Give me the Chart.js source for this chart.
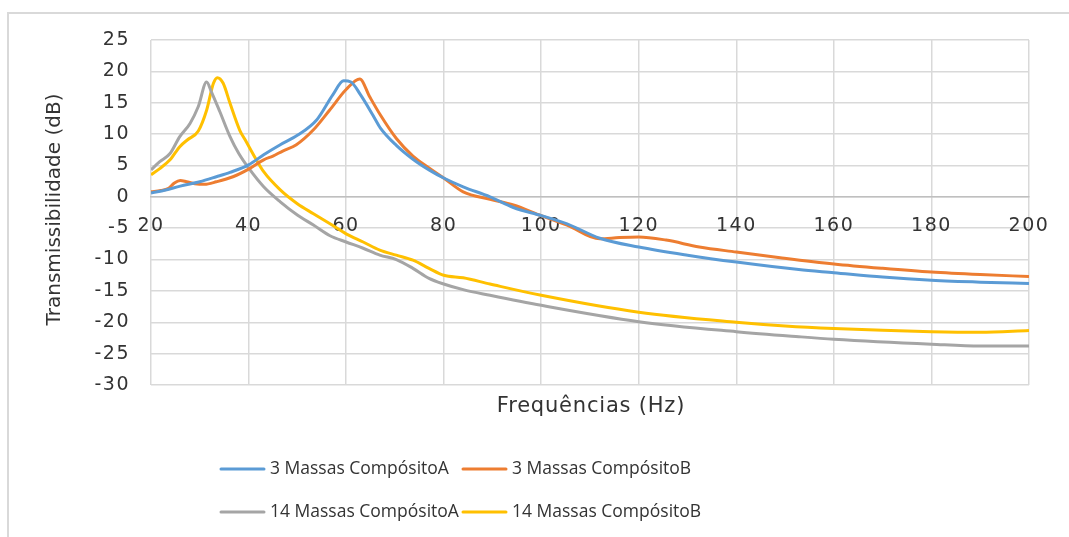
<!DOCTYPE html>
<html>
<head>
<meta charset="utf-8">
<script src="https://cdn.jsdelivr.net/npm/chart.js@4/dist/chart.umd.min.js"></script>
<style>
  html, body { margin: 0; padding: 0; background: #ffffff; overflow: hidden; }
  #wrap { width: 1069px; height: 537px; position: relative; }
</style>
</head>
<body>
<div id="wrap"><canvas id="c" width="1069" height="537"></canvas></div>
<script>
// Axis ranges and labels
const xTitle = 'Frequências (Hz)';
const yTitle = 'Transmissibilidade (dB)';
const xMin = 20, xMax = 200, xStep = 20;
const yMin = -30, yMax = 25, yStep = 5;

const seriesNames = [
  '3 Massas CompósitoA',
  '3 Massas CompósitoB',
  '14 Massas CompósitoA',
  '14 Massas CompósitoB'
];

// 3 Massas – CompósitoA
const freqA3 = [20, 23, 26, 30, 33.4, 36.2, 40, 43.1, 46.5, 50, 54, 57.3, 59.5, 61, 63, 65.5, 67, 70.3, 73.7, 77, 80, 84, 89.5, 94.3, 100, 105.3, 112, 120, 130, 140, 152.8, 160, 170, 180, 190, 200];
const valA3  = [0.6, 1.1, 1.7, 2.4, 3.2, 3.9, 5.1, 6.7, 8.3, 9.8, 12.3, 16.3, 18.5, 18.3, 16.2, 13.0, 11.0, 8.2, 6.0, 4.3, 3.0, 1.6, 0.0, -1.7, -3.0, -4.3, -6.6, -8.0, -9.3, -10.4, -11.6, -12.1, -12.8, -13.3, -13.6, -13.8];

// 3 Massas – CompósitoB
const freqB3 = [20, 22, 23.5, 24.8, 26, 27.3, 29, 31, 33.4, 36.8, 40.2, 43.1, 45, 47, 49.8, 53.2, 56.6, 60, 62.8, 64.8, 66.9, 70.3, 73.7, 77, 80, 84, 89.5, 94.3, 100, 105.3, 112, 116, 120, 125.6, 132.4, 140, 149, 160, 170, 180, 190, 200];
const valB3  = [0.8, 1.0, 1.3, 2.2, 2.6, 2.4, 2.1, 2.0, 2.4, 3.2, 4.5, 5.9, 6.5, 7.3, 8.3, 10.6, 13.8, 17.1, 18.8, 16.0, 13.2, 9.3, 6.5, 4.6, 3.0, 0.8, -0.4, -1.3, -3.0, -4.5, -6.7, -6.5, -6.4, -6.9, -8.0, -8.8, -9.7, -10.7, -11.4, -12.0, -12.4, -12.7];

// 14 Massas – CompósitoA
const freqA14 = [20, 21.8, 23.9, 25.9, 28, 29.7, 31.4, 32.4, 34.1, 36.2, 38, 40, 43.1, 46.5, 50, 53.3, 56.7, 60, 63.5, 66.9, 70.3, 73.7, 77, 80, 84, 89.5, 100, 120, 140, 152.8, 160, 180, 190, 200];
const valA14  = [4.3, 5.6, 6.9, 9.6, 11.7, 14.4, 18.3, 16.7, 13.6, 9.6, 6.9, 4.6, 1.6, -0.8, -2.9, -4.5, -6.2, -7.2, -8.2, -9.3, -10.0, -11.4, -13.0, -13.9, -14.8, -15.7, -17.3, -19.9, -21.5, -22.3, -22.7, -23.5, -23.8, -23.8];

// 14 Massas – CompósitoB
const freqB14 = [20, 21.8, 23.9, 25.9, 27.5, 29.7, 31.4, 32.8, 33.6, 34.8, 36.2, 38.2, 39.3, 41.6, 43.1, 46.5, 50, 53.3, 56.7, 60, 63.5, 66.9, 70.3, 73.7, 77, 80, 84, 89.5, 100, 120, 140, 150, 160, 180, 190, 200];
const valB14  = [3.5, 4.5, 5.9, 8.0, 9.1, 10.5, 13.8, 18.1, 19.0, 18.1, 14.9, 10.6, 9.1, 5.9, 4.0, 1.1, -1.1, -2.7, -4.3, -5.9, -7.2, -8.5, -9.3, -10.1, -11.4, -12.5, -12.9, -13.9, -15.7, -18.4, -20.0, -20.6, -21.0, -21.5, -21.6, -21.3];

const colors = ['#5B9BD5', '#ED7D31', '#A5A5A5', '#FFC000'];
const textColor = '#333333';
const gridColor = '#d9d9d9';
const tickFont = '"DejaVu Sans", sans-serif';
const titleFont = '"DejaVu Sans", sans-serif';
const legendFont = '"Open Sans", "DejaVu Sans", sans-serif';

function points(xs, ys) {
  return xs.map((x, i) => ({ x: x, y: ys[i] }));
}

const seriesData = [
  points(freqA3, valA3),
  points(freqB3, valB3),
  points(freqA14, valA14),
  points(freqB14, valB14)
];

// Outer frame of the chart box; slightly wider letter spacing for tick labels
const framePlugin = {
  id: 'frame',
  beforeDraw(chart) {
    const ctx = chart.ctx;
    ctx.save();
    ctx.fillStyle = '#ffffff';
    ctx.fillRect(0, 0, chart.width, chart.height);
    ctx.fillStyle = '#d9d9d9';
    ctx.fillRect(7, 12, 2, chart.height - 12);
    ctx.fillRect(7, 12, chart.width - 7, 2);
    ctx.restore();
    ctx.letterSpacing = '1.5px';
  }
};

// Axis titles
const titlesPlugin = {
  id: 'axisTitles',
  afterDraw(chart) {
    const ctx = chart.ctx;
    const area = chart.chartArea;
    ctx.letterSpacing = '0px';
    ctx.save();
    ctx.fillStyle = textColor;
    ctx.textAlign = 'center';
    ctx.textBaseline = 'middle';
    ctx.font = '21px ' + titleFont;
    ctx.letterSpacing = '0.8px';
    ctx.fillText(xTitle, (area.left + area.right) / 2 + 1, 407);
    ctx.letterSpacing = '0px';
    ctx.font = '20px ' + titleFont;
    ctx.translate(55, (area.top + area.bottom) / 2 - 3);
    ctx.rotate(-Math.PI / 2);
    ctx.fillText(yTitle, 0, 0);
    ctx.restore();
  }
};

// Two-column legend below the plot
const legendPlugin = {
  id: 'gridLegend',
  afterDraw(chart) {
    const ctx = chart.ctx;
    const colX = [221, 463];
    const rowY = [469, 512];
    const sample = 43;
    ctx.save();
    ctx.letterSpacing = '0px';
    ctx.font = '17.5px ' + legendFont;
    ctx.textBaseline = 'middle';
    ctx.textAlign = 'left';
    chart.data.datasets.forEach((ds, i) => {
      const x = colX[i % 2];
      const y = rowY[Math.floor(i / 2)];
      ctx.strokeStyle = ds.borderColor;
      ctx.lineWidth = 3;
      ctx.lineCap = 'round';
      ctx.beginPath();
      ctx.moveTo(x, y);
      ctx.lineTo(x + sample, y);
      ctx.stroke();
      ctx.fillStyle = textColor;
      ctx.fillText(ds.label, x + sample + 6, y);
    });
    ctx.restore();
  }
};

const chart = new Chart(document.getElementById('c'), {
  type: 'line',
  data: {
    datasets: seriesNames.map((name, i) => ({
      label: name,
      data: seriesData[i],
      borderColor: colors[i],
      backgroundColor: colors[i],
      borderWidth: 3,
      pointRadius: 0,
      fill: false,
      cubicInterpolationMode: 'monotone'
    }))
  },
  options: {
    responsive: false,
    animation: false,
    devicePixelRatio: 1,
    layout: { padding: { top: 40, right: 40, bottom: 152, left: 0 } },
    plugins: {
      legend: { display: false },
      tooltip: { enabled: false }
    },
    scales: {
      x: {
        type: 'linear',
        min: xMin,
        max: xMax,
        position: { y: 0 },
        ticks: {
          stepSize: xStep,
          padding: 0,
          color: textColor,
          font: { family: tickFont, size: 19 },
          maxRotation: 0
        },
        grid: {
          color: gridColor,
          lineWidth: 1.5,
          drawTicks: true,
          tickLength: 18,
          tickColor: 'rgba(0,0,0,0)'
        },
        border: { display: true, color: '#bfbfbf', width: 1.5 }
      },
      y: {
        min: yMin,
        max: yMax,
        ticks: {
          stepSize: yStep,
          padding: 21,
          color: textColor,
          font: { family: tickFont, size: 19 }
        },
        grid: { color: gridColor, lineWidth: 1.5, drawTicks: false },
        border: { display: false },
        afterFit(scale) { scale.width = 151; }
      }
    }
  },
  plugins: [framePlugin, titlesPlugin, legendPlugin]
});
</script>
</body>
</html>
